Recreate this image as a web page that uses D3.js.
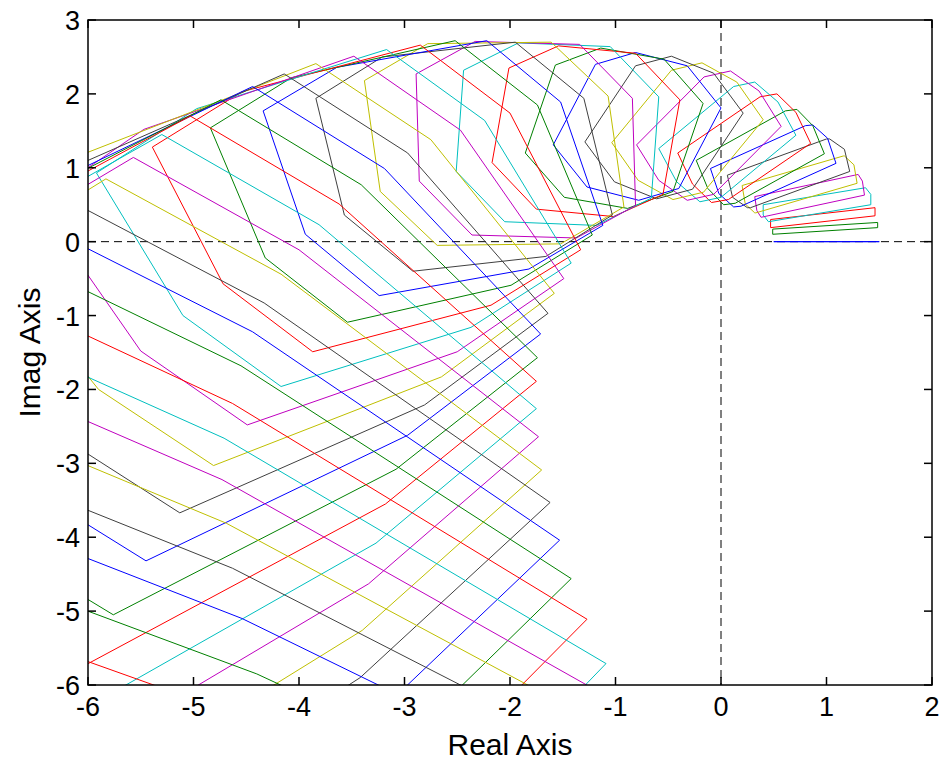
<!DOCTYPE html>
<html><head><meta charset="utf-8">
<script src="https://cdn.jsdelivr.net/npm/d3@7"></script>
<style>body{margin:0;background:#fff;} svg{display:block;}</style>
</head><body>
<script>
// Value sets (one closed polygon per frequency).
// Each polygon: start vertex, then edges -g1,-g4,-g3,-g2,+g1,+g4,+g3,+g2.
const startRe = [1.50,1.485,1.46,1.42,1.36,1.29,1.22,1.09,0.98,0.85,0.71,0.57,0.40,0.21,0.00,-0.17,-0.39,-0.59,-0.84,-1.07,-1.30,-1.52,-1.74,-2.00,-2.24,-2.47,-2.75,-2.97,-3.19,-3.41,-3.62,-3.81,-4.00,-4.17,-4.33,-4.44,-4.55,-4.63,-4.71,-4.73,-4.69,-4.63,-4.54,-4.40,-4.20];
const startIm = [0.00,0.19,0.35,0.50,0.63,0.79,0.95,1.06,1.19,1.33,1.44,1.56,1.65,1.74,1.81,1.87,1.92,1.96,1.94,1.97,1.94,1.89,1.85,1.74,1.64,1.51,1.38,1.20,0.99,0.77,0.51,0.23,-0.11,-0.44,-0.83,-1.22,-1.68,-2.19,-2.66,-3.22,-3.81,-4.42,-5.10,-5.85,-6.60];
const gen1 = [[1.00,0.00],[0.995,0.09],[0.99,0.16],[0.97,0.23],[0.98,0.30],[0.96,0.40],[0.94,0.49],[0.90,0.58],[0.845,0.67],[0.78,0.76],[0.71,0.84],[0.64,0.92],[0.565,0.98],[0.48,1.03],[0.40,1.09],[0.285,1.19],[0.16,1.28],[0.07,1.37],[-0.03,1.45],[-0.15,1.50],[-0.27,1.58],[-0.40,1.67],[-0.52,1.76],[-0.67,1.85],[-0.82,1.93],[-0.98,2.01],[-1.17,2.08],[-1.33,2.17],[-1.48,2.24],[-1.67,2.34],[-1.87,2.40],[-2.06,2.49],[-2.27,2.53],[-2.47,2.65],[-2.71,2.70],[-2.91,2.82],[-3.13,2.88],[-3.36,2.92],[-3.62,3.05],[-3.88,3.12],[-4.15,3.18],[-4.43,3.24],[-4.72,3.29],[-5.02,3.33],[-5.33,3.37]];
const gen2 = [[0,0],[0,-0.07],[0,-0.11],[0,-0.14],[0.02,-0.19],[0.03,-0.25],[0.05,-0.30],[0.08,-0.34],[0.11,-0.38],[0.14,-0.42],[0.17,-0.45],[0.21,-0.48],[0.25,-0.51],[0.28,-0.54],[0.32,-0.57],[0.37,-0.60],[0.42,-0.63],[0.46,-0.68],[0.50,-0.73],[0.54,-0.73],[0.65,-0.76],[0.70,-0.83],[0.78,-0.87],[0.85,-0.92],[0.93,-0.96],[1.01,-1.00],[1.09,-1.03],[1.17,-1.07],[1.25,-1.11],[1.33,-1.15],[1.41,-1.19],[1.49,-1.22],[1.57,-1.25],[1.66,-1.29],[1.76,-1.32],[1.86,-1.34],[1.95,-1.35],[2.04,-1.36],[2.14,-1.37],[2.23,-1.38],[2.32,-1.38],[2.41,-1.38],[2.50,-1.39],[2.60,-1.38],[2.69,-1.37]];
const gen3 = [[0,0],[0,0],[0,0],[0.05,-0.09],[0.04,-0.09],[0.09,-0.12],[0.14,-0.14],[0.14,-0.18],[0.15,-0.22],[0.18,-0.25],[0.22,-0.27],[0.27,-0.27],[0.33,-0.26],[0.40,-0.23],[0.49,-0.18],[0.60,-0.15],[0.73,-0.10],[0.87,-0.05],[0.99,-0.04],[1.17,0.02],[1.26,0.20],[1.42,0.36],[1.55,0.50],[1.69,0.63],[1.80,0.80],[1.99,0.99],[2.16,1.20],[2.32,1.46],[2.48,1.70],[2.68,1.97],[2.87,2.20],[3.05,2.47],[3.24,2.75],[3.43,3.03],[3.63,3.34],[3.83,3.65],[4.04,3.97],[4.25,4.30],[4.48,4.64],[4.71,5.00],[4.95,5.38],[5.20,5.77],[5.45,6.17],[5.70,6.60],[5.95,7.05]];
const gen4 = [[0,0],[0,0],[0,0],[0,0],[0,0],[0.01,0],[0.03,0],[0.07,0.01],[0.11,0.02],[0.16,0.04],[0.20,0.06],[0.25,0.08],[0.29,0.10],[0.34,0.13],[0.38,0.16],[0.43,0.23],[0.47,0.30],[0.52,0.37],[0.56,0.44],[0.60,0.50],[0.63,0.56],[0.70,0.59],[0.77,0.68],[0.85,0.75],[0.95,0.87],[1.01,0.99],[1.07,1.13],[1.17,1.24],[1.26,1.37],[1.34,1.51],[1.43,1.66],[1.52,1.82],[1.61,1.99],[1.70,2.17],[1.80,2.37],[1.89,2.57],[1.99,2.78],[2.09,3.01],[2.19,3.24],[2.29,3.49],[2.39,3.74],[2.49,4.01],[2.60,4.28],[2.69,4.58],[2.79,4.88]];
const lineColors = ["#0000ff","#008000","#ff0000","#00bfbf","#bf00bf","#bfbf00","#404040"];
const xTicks = [-6,-5,-4,-3,-2,-1,0,1,2];
const yTicks = [-6,-5,-4,-3,-2,-1,0,1,2,3];

const W = 943, H = 764;
const L = 88, R = 932, T = 20, B = 685;
const svg = d3.select("body").append("svg").attr("width", W).attr("height", H);
const x = d3.scaleLinear().domain([-6, 2]).range([L, R]);
const y = d3.scaleLinear().domain([-6, 3]).range([B, T]);

svg.append("defs").append("clipPath").attr("id", "clip")
  .append("rect").attr("x", L).attr("y", T).attr("width", R - L).attr("height", B - T);
const g = svg.append("g").attr("clip-path", "url(#clip)");

g.append("line").attr("x1", x(0)).attr("x2", x(0)).attr("y1", T).attr("y2", B)
  .attr("stroke", "#000").attr("stroke-width", 1).attr("stroke-dasharray", "8,5");
g.append("line").attr("x1", L).attr("x2", R).attr("y1", y(0)).attr("y2", y(0))
  .attr("stroke", "#000").attr("stroke-width", 1).attr("stroke-dasharray", "8,5");

const line = d3.line().x(d => x(d[0])).y(d => y(d[1]));
const neg = v => [-v[0], -v[1]];
startRe.forEach((re, i) => {
  const steps = [neg(gen1[i]), neg(gen4[i]), neg(gen3[i]), neg(gen2[i]), gen1[i], gen4[i], gen3[i], gen2[i]];
  const pts = [[re, startIm[i]]];
  steps.forEach(s => { const p = pts[pts.length - 1]; pts.push([p[0] + s[0], p[1] + s[1]]); });
  g.append("path").attr("d", line(pts)).attr("fill", "none")
    .attr("stroke", lineColors[i % 7]).attr("stroke-width", 1);
});

const tickFs = 27, labFs = 30, tickLen = 8;
const ax = svg.append("g").attr("font-family", "Liberation Sans, Arial, Helvetica, sans-serif");
ax.append("rect").attr("x", L).attr("y", T).attr("width", R - L).attr("height", B - T)
  .attr("fill", "none").attr("stroke", "#000").attr("stroke-width", 1.5);
xTicks.forEach(t => {
  ax.append("line").attr("x1", x(t)).attr("x2", x(t)).attr("y1", B).attr("y2", B - tickLen).attr("stroke", "#000").attr("stroke-width", 1.5);
  ax.append("line").attr("x1", x(t)).attr("x2", x(t)).attr("y1", T).attr("y2", T + tickLen).attr("stroke", "#000").attr("stroke-width", 1.5);
  ax.append("text").attr("x", x(t)).attr("y", B + 31).attr("text-anchor", "middle").attr("font-size", tickFs).text(t);
});
yTicks.forEach(t => {
  ax.append("line").attr("x1", L).attr("x2", L + tickLen).attr("y1", y(t)).attr("y2", y(t)).attr("stroke", "#000").attr("stroke-width", 1.5);
  ax.append("line").attr("x1", R).attr("x2", R - tickLen).attr("y1", y(t)).attr("y2", y(t)).attr("stroke", "#000").attr("stroke-width", 1.5);
  ax.append("text").attr("x", L - 8).attr("y", y(t) + 10).attr("text-anchor", "end").attr("font-size", tickFs).text(t);
});
ax.append("text").attr("x", (L + R) / 2).attr("y", 755).attr("text-anchor", "middle").attr("font-size", labFs).text("Real Axis");
ax.append("text").attr("transform", `translate(40,${(T + B) / 2}) rotate(-90)`).attr("text-anchor", "middle").attr("font-size", labFs).text("Imag Axis");
</script>
</body></html>
